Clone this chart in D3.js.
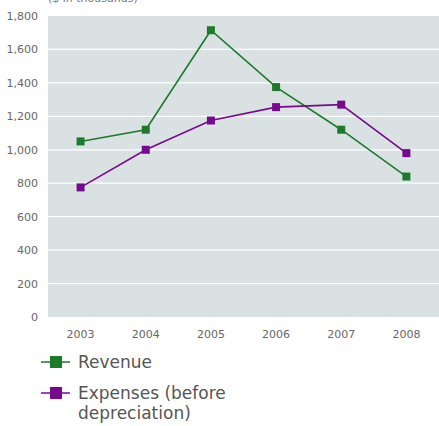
<!DOCTYPE html>
<html><head><meta charset="utf-8">
<script src="https://cdn.jsdelivr.net/npm/d3@7"></script>
<style>body{margin:0;background:#fff}svg{display:block}text{font-family:"DejaVu Sans",Verdana,sans-serif}</style>
</head><body>
<svg id="c" width="439" height="426"></svg>
<script>
const years = ["2003","2004","2005","2006","2007","2008"];
const revenue = [1050, 1120, 1715, 1375, 1120, 840];
const expenses = [775, 1000, 1175, 1255, 1270, 980];
const yTicks = [0,200,400,600,800,1000,1200,1400,1600,1800];
const seriesNames = ["Revenue", "Expenses (before depreciation)"];
const colors = ["#1d7a2d", "#770a8c"];

const svg = d3.select("#c");
const L=48, R=439, T=16, B=317;
const x = d3.scaleBand().domain(years).range([L,R]);
const y = d3.scaleLinear().domain([0,1800]).range([B,T]);

svg.append("rect").attr("x",L).attr("y",T).attr("width",R-L).attr("height",B-T).attr("fill","#dae1e3");
svg.append("g").selectAll("line").data(yTicks.filter(d=>d>0&&d<1800)).join("line")
  .attr("x1",L).attr("x2",R).attr("y1",d=>y(d)).attr("y2",d=>y(d))
  .attr("stroke","#fff").attr("stroke-width",1.2);

const yAxis = svg.append("g").attr("transform",`translate(${L},0)`)
  .call(d3.axisLeft(y).tickValues(yTicks).tickFormat(d3.format(",")).tickSize(0).tickPadding(10));
yAxis.select(".domain").remove();
yAxis.selectAll("text").attr("fill","#666").style("font-size","11px");

const xAxis = svg.append("g").attr("transform",`translate(0,${B})`)
  .call(d3.axisBottom(x).tickSize(0).tickPadding(13));
xAxis.select(".domain").remove();
xAxis.selectAll("text").attr("fill","#666").style("font-size","11px");

svg.append("text").attr("x",48).attr("y",2).attr("fill","#777").style("font-size","11px").text("($ in thousands)");

const line = d3.line().x((d,i)=>x(years[i])+x.bandwidth()/2).y(d=>y(d));
[revenue, expenses].forEach((s,k)=>{
  svg.append("path").datum(s).attr("d",line).attr("fill","none").attr("stroke",colors[k]).attr("stroke-width",1.6);
  svg.append("g").selectAll("rect").data(s).join("rect")
    .attr("x",(d,i)=>x(years[i])+x.bandwidth()/2-4).attr("y",d=>y(d)-4)
    .attr("width",8).attr("height",8).attr("fill",colors[k]);
});

// legend
const legY = [362, 393];
const legLines = [["Revenue"],["Expenses (before","depreciation)"]];
legY.forEach((ly,k)=>{
  svg.append("line").attr("x1",41).attr("x2",70).attr("y1",ly).attr("y2",ly).attr("stroke",colors[k]).attr("stroke-width",1.5);
  svg.append("rect").attr("x",50).attr("y",ly-6).attr("width",12).attr("height",12).attr("fill",colors[k]);
  const t = svg.append("text").attr("x",78).attr("y",ly+6).attr("fill","#555").style("font-size","17px");
  legLines[k].forEach((l,j)=>t.append("tspan").attr("x",78).attr("dy",j?19.5:0).text(l));
});
</script>
</body></html>
